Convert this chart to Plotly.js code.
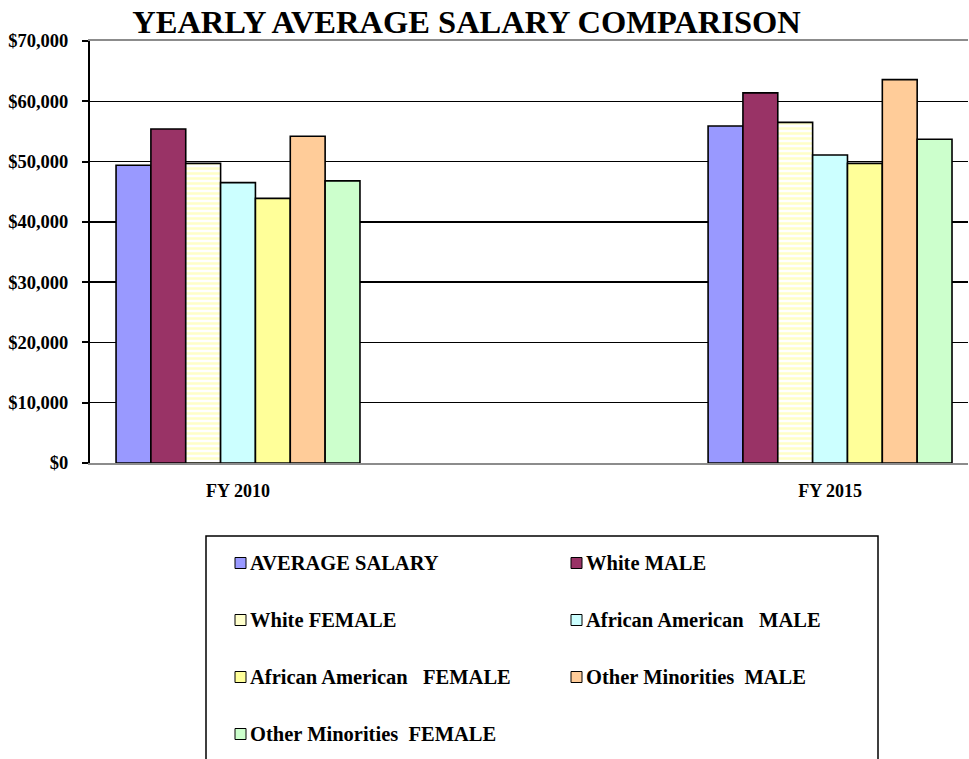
<!DOCTYPE html>
<html>
<head>
<meta charset="utf-8">
<script src="https://cdn.plot.ly/plotly-3.0.1.min.js"></script>
<style>
  html, body { margin: 0; padding: 0; background: #fff; }
  #chart { width: 969px; height: 759px; }
</style>
</head>
<body>
<div id="chart"></div>
<script>
// ---- Data ----
const categories = ["FY 2010", "FY 2015"];
const seriesNames = [
  "AVERAGE SALARY",
  "White MALE",
  "White FEMALE",
  "African American\u00a0\u00a0\u00a0MALE",
  "African American\u00a0\u00a0\u00a0FEMALE",
  "Other Minorities\u00a0\u00a0MALE",
  "Other Minorities\u00a0\u00a0FEMALE"
];
const averageSalary = [49400, 55900];
const whiteMale = [55400, 61400];
const whiteFemale = [49700, 56500];
const africanAmericanMale = [46500, 51100];
const africanAmericanFemale = [43900, 49700];
const otherMinoritiesMale = [54200, 63600];
const otherMinoritiesFemale = [46800, 53700];
const yTickValues = [0, 10000, 20000, 30000, 40000, 50000, 60000, 70000];
const yTickLabels = ["$0", "$10,000", "$20,000", "$30,000", "$40,000", "$50,000", "$60,000", "$70,000"];

const seriesValues = [averageSalary, whiteMale, whiteFemale, africanAmericanMale,
  africanAmericanFemale, otherMinoritiesMale, otherMinoritiesFemale];
const seriesColors = ["#9999FF", "#993366", "#FFFFCC", "#CCFFFF", "#FFFF99", "#FFCC99", "#CCFFCC"];

// ---- Layout geometry (pixels) ----
const W = 969, H = 759;
const M = { l: 90, r: 1, t: 41, b: 296 };
const plotW = W - M.l - M.r, plotH = H - M.t - M.b;
const px2x = px => (px - M.l) / plotW;
const py2y = py => (H - M.b - py) / plotH;

const FONT = "Liberation Serif, Times New Roman, serif";

const traces = seriesNames.map((name, i) => {
  const t = {
    type: "bar",
    name: name,
    x: categories,
    y: seriesValues[i],
    marker: {
      color: seriesColors[i],
      line: { color: "#000000", width: 1.6 }
    },
    hoverinfo: "x+y+name",
    showlegend: false
  };
  if (i === 2) {
    t.marker.color = "#FFFFFF";
    t.marker.pattern = { shape: "-", fgcolor: "#FFFFC8", bgcolor: "#FFFFFF", size: 5, solidity: 0.5 };
  }
  return t;
});

// ---- Manual legend (box, swatches, labels) ----
const shapes = [];
const annotations = [];
shapes.push({
  type: "rect", xref: "paper", yref: "paper",
  x0: px2x(206), x1: px2x(878), y0: py2y(536), y1: py2y(800),
  line: { color: "#000000", width: 1.5 }, fillcolor: "rgba(0,0,0,0)", layer: "above"
});
const colX = [235, 571];
const rowY = [563, 620, 677, 734];
seriesNames.forEach((name, i) => {
  const col = i % 2, row = Math.floor(i / 2);
  const sx = colX[col], sy = rowY[row];
  shapes.push({
    type: "rect", xref: "paper", yref: "paper",
    x0: px2x(sx), x1: px2x(sx + 11), y0: py2y(sy - 5.5), y1: py2y(sy + 5.5),
    line: { color: "#000000", width: 1 }, fillcolor: seriesColors[i], layer: "above"
  });
  annotations.push({
    xref: "paper", yref: "paper", x: px2x(sx + 13), y: py2y(sy),
    xanchor: "left", yanchor: "middle", showarrow: false,
    text: "<b>" + name + "</b>",
    font: { family: FONT, size: 20.5, color: "#000000" }
  });
});

const layout = {
  width: W, height: H,
  margin: M,
  paper_bgcolor: "#FFFFFF",
  plot_bgcolor: "#FFFFFF",
  font: { family: FONT, color: "#000000" },
  title: {
    text: "<b>YEARLY AVERAGE SALARY COMPARISON</b>",
    font: { family: FONT, size: 32.5, color: "#000000" },
    x: 466.5 / W, xanchor: "center",
    y: 1 - 22 / H, yanchor: "middle"
  },
  barmode: "group",
  bargap: 0.588,
  bargroupgap: 0,
  showlegend: false,
  xaxis: {
    type: "category",
    range: [-0.25, 1.233],
    showline: true, linecolor: "#8C8C8C", linewidth: 2, mirror: true,
    showgrid: false, ticks: "",
    ticklabelstandoff: 10,
    tickfont: { family: FONT, size: 18, color: "#000000", weight: "bold" }
  },
  yaxis: {
    range: [0, 70000],
    tickmode: "array",
    tickvals: yTickValues,
    ticktext: yTickLabels,
    showline: true, linecolor: "#000000", linewidth: 2,
    showgrid: true, gridcolor: "#000000", gridwidth: 1.5,
    zeroline: false,
    ticks: "outside", ticklen: 6, tickcolor: "#000000", tickwidth: 2,
    ticklabelstandoff: 10,
    tickfont: { family: FONT, size: 18.5, color: "#000000", weight: "bold" }
  },
  shapes: shapes,
  annotations: annotations
};

Plotly.newPlot("chart", traces, layout, { displayModeBar: false, staticPlot: true });
</script>
</body>
</html>
